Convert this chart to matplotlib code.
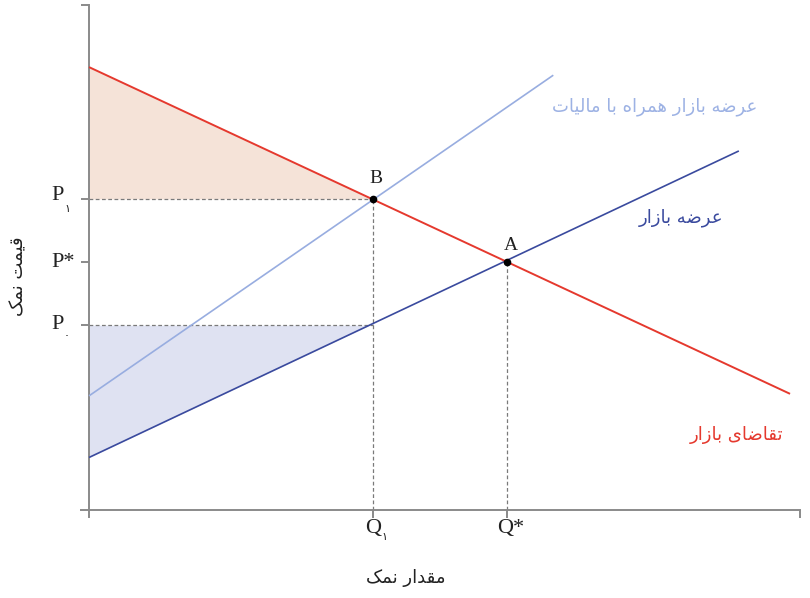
import numpy as np
import matplotlib
matplotlib.use("Agg")
import matplotlib.pyplot as plt
from matplotlib import font_manager
from fontTools.ttLib import TTFont

# ---------------- data ----------------
demand_x = [0.0, 9.86]
demand_y = [8.77, 2.30]
supply_x = [0.0, 9.14]
supply_y = [1.04, 7.11]
tax_supply_x = [0.0, 6.53]
tax_supply_y = [2.26, 8.61]

Q1 = 4.0
Q_star = 5.88
P1 = 6.16
P_star = 4.91
P0 = 3.66

point_A = (Q_star, P_star)
point_B = (Q1, P1)

label_tax_supply = "عرضه بازار همراه با مالیات"
label_supply = "عرضه بازار"
label_demand = "تقاضای بازار"
label_ylabel = "قیمت نمک"
label_xlabel = "مقدار نمک"

# ---------------- minimal Arabic/Persian shaping ----------------
ar_font_path = font_manager.findfont("DejaVu Sans")
cmap = TTFont(ar_font_path).getBestCmap()

def has(c):
    return ord(c) in cmap

yeh = ('\uFBFC', '\uFBFD', '\uFBFE', '\uFBFF')
if not all(has(c) for c in yeh):
    yeh = ('\uFEEF', '\uFEF0', '\uFEF3', '\uFEF4')
keheh = ('\uFB8E', '\uFB8F', '\uFB90', '\uFB91')
if not all(has(c) for c in keheh):
    keheh = ('\uFED9', '\uFEDA', '\uFEDB', '\uFEDC')

FORMS = {
    'ا': ('\uFE8D', '\uFE8E', None, None),
    'ب': ('\uFE8F', '\uFE90', '\uFE91', '\uFE92'),
    'ت': ('\uFE95', '\uFE96', '\uFE97', '\uFE98'),
    'د': ('\uFEA9', '\uFEAA', None, None),
    'ر': ('\uFEAD', '\uFEAE', None, None),
    'ز': ('\uFEAF', '\uFEB0', None, None),
    'ض': ('\uFEBD', '\uFEBE', '\uFEBF', '\uFEC0'),
    'ع': ('\uFEC9', '\uFECA', '\uFECB', '\uFECC'),
    'ق': ('\uFED5', '\uFED6', '\uFED7', '\uFED8'),
    'ل': ('\uFEDD', '\uFEDE', '\uFEDF', '\uFEE0'),
    'م': ('\uFEE1', '\uFEE2', '\uFEE3', '\uFEE4'),
    'ن': ('\uFEE5', '\uFEE6', '\uFEE7', '\uFEE8'),
    'ه': ('\uFEE9', '\uFEEA', '\uFEEB', '\uFEEC'),
    'ی': yeh,
    'ک': keheh,
}


def shape(text):
    out = []
    for i, ch in enumerate(text):
        if ch not in FORMS:
            out.append(ch)
            continue
        prev = text[i - 1] if i > 0 else ''
        nxt = text[i + 1] if i + 1 < len(text) else ''
        iso, fin, ini, med = FORMS[ch]
        join_prev = prev in FORMS and FORMS[prev][2] is not None
        join_next = nxt in FORMS and ini is not None
        if join_prev and join_next:
            out.append(med)
        elif join_prev:
            out.append(fin)
        elif join_next:
            out.append(ini)
        else:
            out.append(iso)
    return ''.join(reversed(out))


AR = ['DejaVu Sans']
SERIF = ['Liberation Serif', 'DejaVu Serif']

# ---------------- colours ----------------
RED = '#e5392e'
DARK_BLUE = '#3a4a9e'
LIGHT_BLUE = '#98ade0'
LIGHT_BLUE_TEXT = '#9db2e4'
GRAY = '#8a8a8a'
DASH = '#7a7a7a'
FILL_ORANGE = '#f5e3d8'
FILL_BLUE = '#dfe2f2'
INK = '#222222'

# ---------------- figure ----------------
fig = plt.figure(figsize=(8.1, 5.98), dpi=100)
ax = fig.add_axes([81 / 810, (598 - 517) / 598, 719 / 810, 512 / 598])
ax.set_xlim(-0.113, 10.0)
ax.set_ylim(-0.139, 10.0)

for s in ['top', 'right']:
    ax.spines[s].set_visible(False)
for s in ['left', 'bottom']:
    ax.spines[s].set_color(GRAY)
    ax.spines[s].set_linewidth(1.4)
ax.spines['left'].set_position(('data', 0))
ax.spines['bottom'].set_position(('data', 0))

ax.set_xticks([Q1, Q_star, 10.0])
ax.set_yticks([P0, P_star, P1, 10.0])
ax.set_xticklabels([])
ax.set_yticklabels([])
ax.tick_params(direction='out', length=5.5, width=1.4, color=GRAY)

# fills
xs = np.linspace(0, Q1, 50)
ax.fill_between(xs, np.interp(xs, demand_x, demand_y), P1,
                color=FILL_ORANGE, lw=0, zorder=1)
ax.fill_between(xs, np.interp(xs, supply_x, supply_y), P0,
                color=FILL_BLUE, lw=0, zorder=1)

# dashed guides
dkw = dict(color=DASH, lw=0.9, dashes=(3, 2), zorder=2)
ax.plot([0, Q1], [P1, P1], **dkw)
ax.plot([0, Q1], [P0, P0], **dkw)
ax.plot([Q1, Q1], [0, P1], **dkw)
ax.plot([Q_star, Q_star], [0, P_star], **dkw)

# curves
ax.plot(tax_supply_x, tax_supply_y, color=LIGHT_BLUE, lw=1.2, zorder=3,
        solid_capstyle='butt')
ax.plot(supply_x, supply_y, color=DARK_BLUE, lw=1.2, zorder=3,
        solid_capstyle='butt')
ax.plot(demand_x, demand_y, color=RED, lw=1.4, zorder=4,
        solid_capstyle='butt')

# points
ax.plot(*point_A, 'o', color='black', ms=4.5, zorder=5)
ax.plot(*point_B, 'o', color='black', ms=4.5, zorder=5)
ax.annotate('A', point_A, xytext=(3, 12), textcoords='offset points',
            ha='center', va='center', fontsize=14, family=SERIF, color=INK)
ax.annotate('B', point_B, xytext=(2, 15), textcoords='offset points',
            ha='center', va='center', fontsize=14, family=SERIF, color=INK)

# curve labels
ax.text(9.40, 7.98, shape(label_tax_supply), ha='right', va='center',
        fontsize=13, family=AR, color=LIGHT_BLUE_TEXT)
ax.text(8.92, 5.78, shape(label_supply), ha='right', va='center',
        fontsize=13, family=AR, color=DARK_BLUE)
ax.text(9.76, 1.48, shape(label_demand), ha='right', va='center',
        fontsize=13, family=AR, color=RED)

# price labels
tk = dict(textcoords='offset pixels', ha='center', va='center',
          fontsize=16, family=SERIF, color=INK, annotation_clip=False)
sk = dict(textcoords='offset pixels', ha='center', va='center',
          fontsize=8, family=AR, color=INK, annotation_clip=False)
ax.annotate('P', (0, P1), xytext=(-31, 3), **tk)
ax.annotate('\u06F1', (0, P1), xytext=(-22, -10), **sk)
ax.annotate('P*', (0, P_star), xytext=(-26, 0), **tk)
ax.annotate('P', (0, P0), xytext=(-31, 1), **tk)
ax.annotate('\u06F0', (0, P0), xytext=(-22, -11), **sk)

ax.annotate('Q', (Q1, 0), xytext=(0, -19), **tk)
ax.annotate('\u06F1', (Q1, 0), xytext=(11, -27), **sk)
ax.annotate('Q*', (Q_star, 0), xytext=(4, -19), **tk)

# axis titles
fig.text(406 / 810, 1 - 578 / 598, shape(label_xlabel), ha='center', va='center',
         fontsize=13, family=AR, color=INK)
fig.text(18 / 810, 1 - 276 / 598, shape(label_ylabel), ha='center', va='center',
         rotation=90, fontsize=13, family=AR, color=INK)

fig.savefig('out.png', dpi=100)
